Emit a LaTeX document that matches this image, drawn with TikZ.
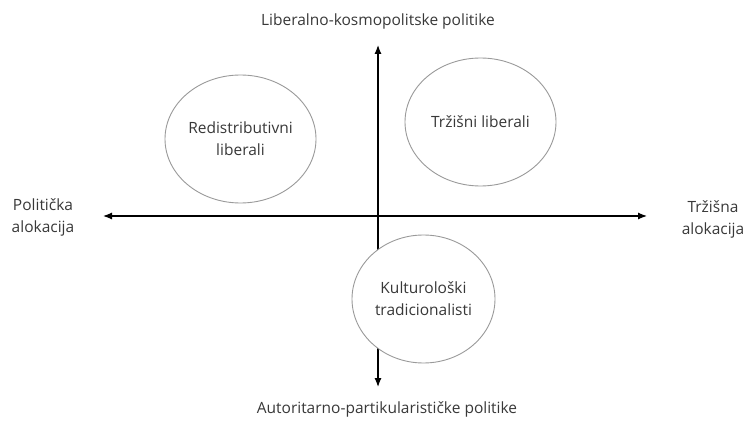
\documentclass[tikz,border=0pt]{standalone}
\usepackage{fontspec}
\setmainfont{Open Sans}
\usetikzlibrary{shapes.geometric,arrows.meta}
\definecolor{txt}{HTML}{383838}
\definecolor{ell}{HTML}{9A9A9A}
\tikzset{
  lbl/.style={font=\fontsize{15.5}{22}\selectfont, text=txt, align=center, inner sep=0pt},
  quad/.style={ellipse, draw=ell, line width=0.9pt, fill=white, inner sep=0pt,
    font=\fontsize{15.5}{22}\selectfont, text=txt, align=center},
  axis/.style={line width=1.2pt, {Latex[length=9pt,width=7pt]}-{Latex[length=9pt,width=7pt]}}
}
\begin{document}
\begin{tikzpicture}[x=1pt,y=-1pt]
\useasboundingbox (0,0) rectangle (750,422);
\coordinate (L) at (103,216);
\coordinate (R) at (647,216);
\coordinate (T) at (378,45);
\coordinate (B) at (378,387);
\draw[axis] (L) -- (R);
\draw[axis] (B) -- (T);
\node[quad, minimum width=151pt, minimum height=128pt] (redis) at (240.5,139) {Redistributivni\\liberali};
\node[quad, minimum width=151pt, minimum height=128pt] (trz) at (480.5,122) {Tržišni liberali};
\node[quad, minimum width=143pt, minimum height=128pt] (kult) at (423.5,299) {Kulturološki\\tradicionalisti};
\node[lbl] (top) at (378,21) {Liberalno-kosmopolitske politike};
\node[lbl] (bot) at (387,409) {Autoritarno-partikularističke politike};
\node[lbl] (left) at (43,217) {Politička\\alokacija};
\node[lbl] (right) at (713,219) {Tržišna\\alokacija};
\end{tikzpicture}
\end{document}
